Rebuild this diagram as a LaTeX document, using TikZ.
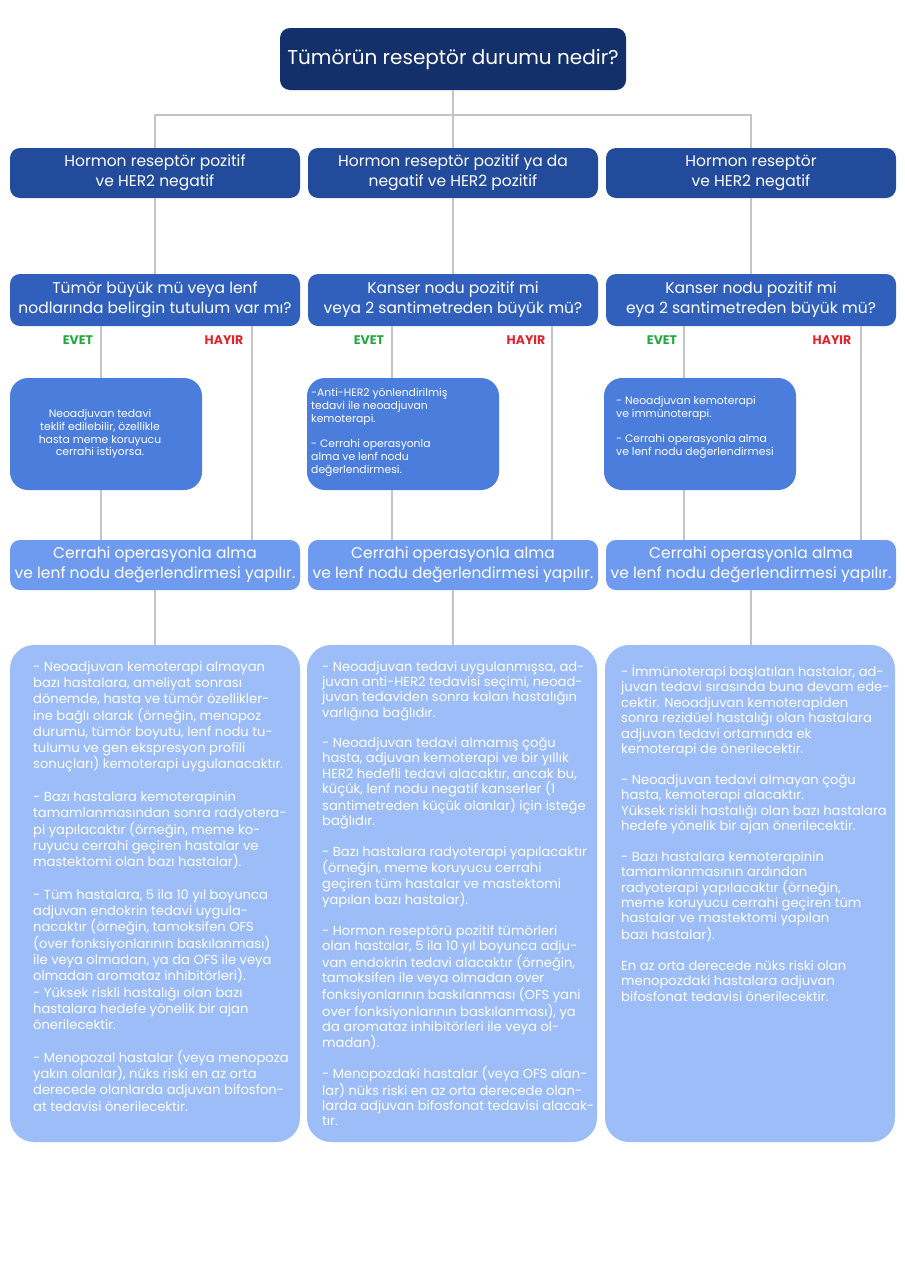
\documentclass[tikz,border=0pt]{standalone}
\usepackage{fontspec}
\setmainfont{Poppins}
\usetikzlibrary{positioning}

\definecolor{navy}{HTML}{13306B}
\definecolor{rowtwo}{HTML}{234B9B}
\definecolor{rowthree}{HTML}{3060BB}
\definecolor{rowfour}{HTML}{4B7DDC}
\definecolor{rowfive}{HTML}{6E9BF0}
\definecolor{rowsix}{HTML}{9DBDF8}
\definecolor{linegray}{HTML}{C4C4C4}
\definecolor{evetgreen}{HTML}{22A83F}
\definecolor{hayirred}{HTML}{E0242C}

\begin{document}
\begin{tikzpicture}[x=1pt,y=-1pt,
    box/.style={rounded corners=10pt, text=white, align=center, inner sep=0pt},
    topbox/.style={box, fill=navy, minimum width=346pt, minimum height=62pt,
        font=\fontsize{20}{24}\selectfont},
    typebox/.style={box, fill=rowtwo, minimum width=290pt, minimum height=50pt,
        font=\fontsize{15.5}{20}\selectfont},
    askbox/.style={box, fill=rowthree, minimum width=290pt, minimum height=52pt,
        font=\fontsize{15.5}{20}\selectfont},
    evetbox/.style={box, rounded corners=18pt, fill=rowfour, minimum width=192pt,
        minimum height=112pt},
    surgbox/.style={box, fill=rowfive, minimum width=290pt, minimum height=50pt,
        font=\fontsize{15.5}{20}\selectfont},
    notebox/.style={box, rounded corners=24pt, fill=rowsix, minimum width=290pt,
        minimum height=497pt},
    smalltext/.style={text=white, inner sep=0pt, align=left,
        font=\fontsize{10.8}{12.8}\selectfont},
    notetext/.style={text=white, inner sep=0pt, align=left, anchor=north west,
        font=\fontsize{13.1}{#1}\selectfont},
    evet/.style={text=evetgreen, font=\bfseries\fontsize{12.5}{14}\selectfont},
    hayir/.style={text=hayirred, font=\bfseries\fontsize{12.5}{14}\selectfont},
    link/.style={draw=linegray, line width=2pt}]

\fill[white] (0,0) rectangle (905,1280);
\useasboundingbox (0,0) rectangle (905,1280);

% question at the top
\node[topbox] (top) at (453,59) {Tümörün reseptör durumu nedir?};

% receptor types
\node[typebox] (type1) at (155,173) {Hormon reseptör pozitif\\ve HER2 negatif};
\node[typebox] (type2) at (453,173) {Hormon reseptör pozitif ya da\\negatif ve HER2 pozitif};
\node[typebox] (type3) at (751,173) {Hormon reseptör\\ve HER2 negatif};

% questions per type
\node[askbox] (ask1) at (155,300) {Tümör büyük mü veya lenf\\nodlarında belirgin tutulum var mı?};
\node[askbox] (ask2) at (453,300) {Kanser nodu pozitif mi\\veya 2 santimetreden büyük mü?};
\node[askbox] (ask3) at (751,300) {Kanser nodu pozitif mi\\eya 2 santimetreden büyük mü?};

\node[evet] (yes1) at (78,340) {EVET};
\node[hayir] (no1) at (224,340) {HAYIR};
\node[evet] (yes2) at (369,340) {EVET};
\node[hayir] (no2) at (526,340) {HAYIR};
\node[evet] (yes3) at (662,340) {EVET};
\node[hayir] (no3) at (832,340) {HAYIR};

% neoadjuvant boxes (EVET)
\node[evetbox] (neo1) at (106,434) {};
\node[evetbox] (neo2) at (403,434) {};
\node[evetbox] (neo3) at (700,434) {};
\node[smalltext, align=center] (neotext1) at (100,434) {Neoadjuvan tedavi\\teklif edilebilir, özellikle\\hasta meme koruyucu\\cerrahi istiyorsa.};
\node[smalltext, anchor=north west] (neotext2) at (311,388) {-Anti-HER2 yönlendirilmiş\\tedavi ile neoadjuvan\\kemoterapi.\\ \\- Cerrahi operasyonla\\alma ve lenf nodu\\değerlendirmesi.};
\node[smalltext, anchor=north west] (neotext3) at (616,396) {- Neoadjuvan kemoterapi\\ve immünoterapi.\\ \\- Cerrahi operasyonla alma\\ve lenf nodu değerlendirmesi};

% surgery
\node[surgbox] (surg1) at (155,565) {Cerrahi operasyonla alma\\ve lenf nodu değerlendirmesi yapılır.};
\node[surgbox] (surg2) at (453,565) {Cerrahi operasyonla alma\\ve lenf nodu değerlendirmesi yapılır.};
\node[surgbox] (surg3) at (751,565) {Cerrahi operasyonla alma\\ve lenf nodu değerlendirmesi yapılır.};

% after surgery
\node[notebox] (note1) at (155,893.5) {};
\node[notebox] (note2) at (452,893.5) {};
\node[notebox] (note3) at (750,893.5) {};

\node[notetext=16.3] (notetext1) at (33,661) {- Neoadjuvan kemoterapi almayan\\bazı hastalara, ameliyat sonrası\\dönemde, hasta ve tümör özellikler-\\ine bağlı olarak (örneğin, menopoz\\durumu, tümör boyutu, lenf nodu tu-\\tulumu ve gen ekspresyon profili\\sonuçları) kemoterapi uygulanacaktır.\\ \\- Bazı hastalara kemoterapinin\\tamamlanmasından sonra radyotera-\\pi yapılacaktır (örneğin, meme ko-\\ruyucu cerrahi geçiren hastalar ve\\mastektomi olan bazı hastalar).\\ \\- Tüm hastalara, 5 ila 10 yıl boyunca\\adjuvan endokrin tedavi uygula-\\nacaktır (örneğin, tamoksifen OFS\\(over fonksiyonlarının baskılanması)\\ile veya olmadan, ya da OFS ile veya\\olmadan aromataz inhibitörleri).\\- Yüksek riskli hastalığı olan bazı\\hastalara hedefe yönelik bir ajan\\önerilecektir.\\ \\- Menopozal hastalar (veya menopoza\\yakın olanlar), nüks riski en az orta\\derecede olanlarda adjuvan bifosfon-\\at tedavisi önerilecektir.};

\node[notetext=15.3] (notetext2) at (322,661) {- Neoadjuvan tedavi uygulanmışsa, ad-\\juvan anti-HER2 tedavisi seçimi, neoad-\\juvan tedaviden sonra kalan hastalığın\\varlığına bağlıdır.\\ \\- Neoadjuvan tedavi almamış çoğu\\hasta, adjuvan kemoterapi ve bir yıllık\\HER2 hedefli tedavi alacaktır, ancak bu,\\küçük, lenf nodu negatif kanserler (1\\santimetreden küçük olanlar) için isteğe\\bağlıdır.\\ \\- Bazı hastalara radyoterapi yapılacaktır\\(örneğin, meme koruyucu cerrahi\\geçiren tüm hastalar ve mastektomi\\yapılan bazı hastalar).\\ \\- Hormon reseptörü pozitif tümörleri\\olan hastalar, 5 ila 10 yıl boyunca adju-\\van endokrin tedavi alacaktır (örneğin,\\tamoksifen ile veya olmadan over\\fonksiyonlarının baskılanması (OFS yani\\over fonksiyonlarının baskılanması), ya\\da aromataz inhibitörleri ile veya ol-\\madan).\\ \\- Menopozdaki hastalar (veya OFS alan-\\lar) nüks riski en az orta derecede olan-\\larda adjuvan bifosfonat tedavisi alacak-\\tır.};

\node[notetext=15.4] (notetext3) at (621,665) {- İmmünoterapi başlatılan hastalar, ad-\\juvan tedavi sırasında buna devam ede-\\cektir. Neoadjuvan kemoterapiden\\sonra rezidüel hastalığı olan hastalara\\adjuvan tedavi ortamında ek\\kemoterapi de önerilecektir.\\ \\- Neoadjuvan tedavi almayan çoğu\\hasta, kemoterapi alacaktır.\\Yüksek riskli hastalığı olan bazı hastalara\\hedefe yönelik bir ajan önerilecektir.\\ \\- Bazı hastalara kemoterapinin\\tamamlanmasının ardından\\radyoterapi yapılacaktır (örneğin,\\meme koruyucu cerrahi geçiren tüm\\hastalar ve mastektomi yapılan\\bazı hastalar).\\ \\En az orta derecede nüks riski olan\\menopozdaki hastalara adjuvan\\bifosfonat tedavisi önerilecektir.};

% connectors
\coordinate (bar) at (453,115);
\draw[link] (top) -- (bar);
\draw[link] (bar) -| (type1);
\draw[link] (bar) -| (type3);
\draw[link] (bar) -- (type2);
\foreach \i in {1,2,3} {
    \draw[link] (type\i) -- (ask\i);
    \draw[link] (surg\i) -- (note\i);
}
\coordinate (yesline1) at (101,0);
\coordinate (yesline2) at (392,0);
\coordinate (yesline3) at (684,0);
\coordinate (noline1) at (252,0);
\coordinate (noline2) at (552,0);
\coordinate (noline3) at (861,0);
\foreach \i in {1,2,3} {
    \draw[link] (ask\i.south -| yesline\i) -- (neo\i.north -| yesline\i);
    \draw[link] (neo\i.south -| yesline\i) -- (surg\i.north -| yesline\i);
    \draw[link] (ask\i.south -| noline\i) -- (surg\i.north -| noline\i);
}
\end{tikzpicture}
\end{document}
